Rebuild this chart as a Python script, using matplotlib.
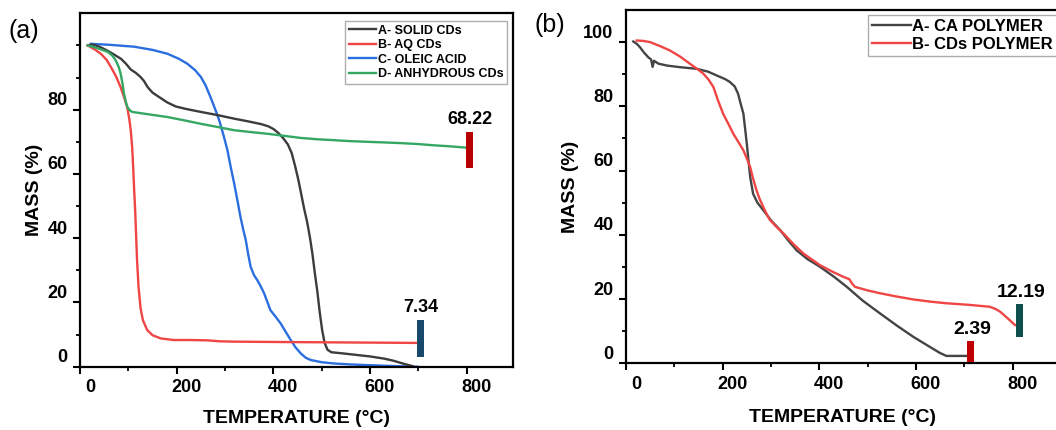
import matplotlib
matplotlib.use("Agg")
import matplotlib.pyplot as plt
import matplotlib.transforms as mtrans

plt.rcParams['font.family'] = ['Liberation Sans', 'DejaVu Sans']
plt.rcParams['font.weight'] = 'bold'

# panel (a) - TGA curves
a_solid_t = [16, 25, 40, 55, 70, 85, 95, 105, 115, 125, 132, 140, 150, 165, 180, 198, 220, 250, 285, 319, 350, 375, 390, 400, 410, 420, 430, 438, 445, 452, 458, 464, 470, 476, 481, 486, 491, 496, 501, 506, 512, 520, 540, 570, 600, 630, 650, 670, 688]
a_solid_m = [100, 100.3, 99.6, 98.5, 97.2, 95.8, 94.3, 92.5, 91.5, 90.2, 89, 87, 85.3, 83.8, 82.3, 81, 80.2, 79.3, 78.3, 77.2, 76.3, 75.5, 74.8, 74, 72.8, 71.2, 69.2, 66.5, 62.5, 58, 53.5, 49, 45, 40, 35, 29, 23.5, 17, 11.4, 7.5, 5.3, 4.5, 4.2, 3.7, 3.2, 2.5, 1.8, 0.9, 0.2]
a_aq_t = [16, 30, 43, 55, 63, 74, 84, 92, 98, 102, 105, 108, 110, 112, 114, 116, 118, 121, 125, 130, 139, 150, 167, 194, 230, 263, 290, 319, 400, 500, 600, 698]
a_aq_m = [100, 98.8, 97.4, 95.5, 93.5, 90.5, 87, 83.5, 80.5, 77, 73.5, 68, 62, 55, 49, 41, 33, 25, 18.5, 14.5, 11.4, 9.8, 8.8, 8.3, 8.3, 8.2, 7.9, 7.8, 7.7, 7.6, 7.5, 7.4]
a_oleic_t = [22, 60, 112, 150, 181, 205, 222, 238, 250, 260, 270, 280, 288, 297, 305, 312, 319, 326, 332, 338, 343, 348, 353, 360, 367, 374, 381, 388, 394, 405, 415, 425, 436, 446, 457, 467, 477, 500, 526, 560, 594, 650, 698]
a_oleic_m = [100.5, 100.2, 99.6, 98.6, 97.4, 95.8, 94.3, 92.3, 90.2, 87.5, 83.9, 80, 76.7, 72, 67.4, 62, 57, 51.5, 46.6, 42.5, 39.4, 35, 31.1, 28.5, 26.9, 25, 22.8, 20, 17.6, 15.5, 13.5, 11, 8.3, 6, 4.1, 2.8, 2.1, 1.4, 1.0, 0.7, 0.5, 0.2, 0]
a_anh_t = [16, 35, 57, 67, 74, 80, 84, 88, 91, 95, 98, 103, 108, 140, 181, 215, 250, 285, 319, 355, 388, 420, 457, 490, 526, 560, 594, 630, 663, 700, 733, 765, 798]
a_anh_m = [100, 99.2, 98, 96.8, 95.3, 93.3, 91.2, 88, 85, 82.3, 80.8, 79.8, 79.3, 78.6, 77.7, 76.7, 75.6, 74.6, 73.6, 73, 72.5, 71.9, 71.2, 70.8, 70.5, 70.2, 70, 69.8, 69.6, 69.3, 68.9, 68.6, 68.2]
a_labels = ['A- SOLID CDs', 'B- AQ CDs', 'C- OLEIC ACID', 'D- ANHYDROUS CDs']

# panel (b)
b_ca_t = [15, 22, 29, 37, 46, 52, 55, 58, 67, 85, 112, 146, 170, 188, 205, 215, 225, 232, 237, 243, 250, 257, 263, 272, 284, 300, 319, 336, 353, 375, 401, 430, 457, 490, 526, 560, 594, 630, 650, 663, 705]
b_ca_m = [100.2, 99.5, 98.4, 96.8, 95.3, 94.6, 92.3, 94.2, 93.3, 92.7, 92.2, 91.7, 90.8, 89.6, 88.5, 87.6, 86.2, 83.9, 81, 77.7, 68.4, 58, 52.8, 50, 47.7, 44.5, 41.5, 38.2, 35.2, 32.5, 30.1, 27, 23.8, 19.5, 15.5, 11.8, 8.3, 5, 3.2, 2.3, 2.3]
b_cds_t = [22, 35, 50, 70, 91, 112, 132, 146, 160, 171, 181, 190, 201, 212, 222, 233, 243, 250, 257, 263, 270, 277, 284, 291, 298, 312, 326, 346, 367, 385, 401, 425, 450, 462, 468, 474, 500, 526, 560, 594, 630, 663, 710, 753, 765, 774, 790, 805]
b_cds_m = [100.5, 100.4, 100, 98.8, 97.4, 95.5, 93.3, 91.8, 90.2, 88.3, 86, 82, 77.7, 74.5, 71.5, 68.8, 66.3, 63.8, 61.1, 57.5, 53.9, 51, 48.7, 46.5, 44.6, 42.4, 40.4, 37.2, 34.2, 32.3, 30.6, 28.7, 26.9, 26.2, 24.8, 23.8, 22.7, 21.8, 20.8, 19.9, 19.2, 18.7, 18.2, 17.6, 16.9, 16.1, 14, 11.9]
b_labels = ['A- CA POLYMER', 'B- CDs POLYMER']

# end markers (residual mass)
a_mark_t = [806, 705]
a_mark_lo = [61.7, 3.1]
a_mark_hi = [73.1, 14.5]
a_mark_txt = ['68.22', '7.34']
b_mark_t = [713, 814]
b_mark_lo = [0.5, 8.3]
b_mark_hi = [7.0, 18.4]
b_mark_txt = ['2.39', '12.19']

fig = plt.figure(figsize=(10.56, 4.30), dpi=100)
ax1 = fig.add_axes([0.0758, 0.1472, 0.410, 0.8219])
ax2 = fig.add_axes([0.5928, 0.1551, 0.410, 0.8216])

def style(ax, yt, xpad):
    ax.set_xlim(0, 896)
    ax.set_ylim(0, 110)
    ax.set_xticks([0, 200, 400, 600, 800])
    ax.set_xticks([100, 300, 500, 700], minor=True)
    ax.set_yticks(yt)
    ax.set_yticks([10, 30, 50, 70, 90, 100] if 100 not in yt else [10, 30, 50, 70, 90], minor=True)
    for s in ax.spines.values():
        s.set_linewidth(1.6)
    ax.tick_params(which='major', direction='out', length=5, width=1.5, labelsize=13, pad=4)
    ax.tick_params(which='minor', direction='out', length=3, width=1.3)
    off_x = mtrans.ScaledTranslation(0.10, 0, fig.dpi_scale_trans)
    off_y = mtrans.ScaledTranslation(0, 0.11, fig.dpi_scale_trans)
    for lb in ax.get_xticklabels():
        lb.set_transform(lb.get_transform() + off_x)
        lb.set_fontweight('bold')
    for lb in ax.get_yticklabels():
        lb.set_transform(lb.get_transform() + off_y)
        lb.set_fontweight('bold')
    ax.set_xlabel('TEMPERATURE (°C)', fontsize=14, fontweight='bold', labelpad=xpad)
    ax.set_ylabel('MASS (%)', fontsize=14, fontweight='bold', labelpad=3)

lw = 1.7
ax1.plot(a_solid_t, a_solid_m, color='#3c3c3c', lw=lw, label=a_labels[0])
ax1.plot(a_aq_t, a_aq_m, color='#f04545', lw=lw, label=a_labels[1])
ax1.plot(a_oleic_t, a_oleic_m, color='#2b6ee0', lw=lw, label=a_labels[2], zorder=1.9)
ax1.plot(a_anh_t, a_anh_m, color='#34a862', lw=lw, label=a_labels[3])
ax1.bar(a_mark_t, [h - l for h, l in zip(a_mark_hi, a_mark_lo)], bottom=a_mark_lo,
        width=14, color=['#b80000', '#18496a'], zorder=3)
for t, h, s in zip(a_mark_t, a_mark_hi, a_mark_txt):
    ax1.text(t, h + 1.2, s, ha='center', va='bottom', fontsize=13, fontweight='bold')
style(ax1, [0, 20, 40, 60, 80], 10)
leg1 = ax1.legend(loc='upper right', bbox_to_anchor=(0.986, 0.978),
                  prop={'weight': 'bold', 'size': 9}, frameon=True, fancybox=False,
                  handlelength=2.2, handletextpad=0.1, labelspacing=0.2,
                  borderpad=0.3, borderaxespad=0)
leg1.get_frame().set_edgecolor('#999999')
leg1.get_frame().set_linewidth(1.0)

ax2.plot(b_ca_t, b_ca_m, color='#444444', lw=lw, label=b_labels[0])
ax2.plot(b_cds_t, b_cds_m, color='#f04545', lw=lw, label=b_labels[1])
ax2.bar(b_mark_t, [h - l for h, l in zip(b_mark_hi, b_mark_lo)], bottom=b_mark_lo,
        width=14, color=['#c00000', '#0e4e4e'], zorder=3)
for t, h, s in zip(b_mark_t, b_mark_hi, b_mark_txt):
    ax2.text(t + 4, h + 0.9, s, ha='center', va='bottom', fontsize=14, fontweight='bold')
style(ax2, [0, 20, 40, 60, 80, 100], 12)
leg2 = ax2.legend(loc='upper left', bbox_to_anchor=(0.559, 0.986),
                  prop={'weight': 'bold', 'size': 12}, frameon=True, fancybox=False,
                  handlelength=2.3, handletextpad=0.1, labelspacing=0.15,
                  borderpad=0.25, borderaxespad=0)
leg2.get_frame().set_edgecolor('#999999')
leg2.get_frame().set_linewidth(1.0)

fig.text(9 / 1056, 1 - 31 / 430, '(a)', fontsize=18, fontweight='normal', va='center', ha='left')
fig.text(535 / 1056, 1 - 25 / 430, '(b)', fontsize=18, fontweight='normal', va='center', ha='left')

fig.savefig('out.png', dpi=100)
